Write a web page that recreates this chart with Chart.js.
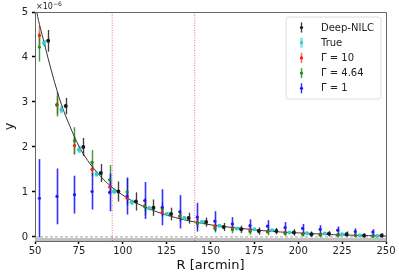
<!DOCTYPE html>
<html><head><meta charset="utf-8">
<script src="https://cdn.jsdelivr.net/npm/chart.js@4"></script>
<style>html,body{margin:0;padding:0;background:#fff}#wrap{width:399px;height:276px;position:relative}</style>
</head><body><div id="wrap"><canvas id="c" width="399" height="276"></canvas></div>
<script>
// ---- data (y in units of 1e-6) ----
const rGamma = [52.5,62.5,72.5,82.5,92.5,102.5,112.5,122.5,132.5,142.5,152.5,162.5,172.5,182.5,192.5,202.5,212.5,222.5,232.5,242.5];
const rTrue  = [55,65,75,85,95,105,115,125,135,145,155,165,175,185,195,205,215,225,235,245];
const rNilc  = [57.5,67.5,77.5,87.5,97.5,107.5,117.5,127.5,137.5,147.5,157.5,167.5,177.5,187.5,197.5,207.5,217.5,227.5,237.5,247.5];

const nilcY   = [4.36,2.91,2.00,1.42,1.01,0.79,0.65,0.51,0.42,0.33,0.22,0.17,0.13,0.13,0.10,0.06,0.07,0.06,0.03,0.03];
const nilcErr = [0.24,0.18,0.20,0.20,0.22,0.20,0.18,0.14,0.12,0.10,0.09,0.08,0.08,0.07,0.07,0.06,0.06,0.06,0.05,0.05];

const trueY   = [4.31,2.83,1.94,1.40,1.01,0.77,0.64,0.51,0.42,0.33,0.25,0.19,0.17,0.15,0.10,0.08,0.075,0.06,0.03,0.02];
const trueErr = [0.07,0.08,0.08,0.06,0.06,0.06,0.05,0.05,0.04,0.04,0.04,0.03,0.03,0.03,0.03,0.03,0.03,0.03,0.03,0.03];

const g10Y    = [4.48,2.93,2.03,1.50,1.11,0.86,0.69,0.55,0.45,0.33,0.24,0.19,0.16,0.13,0.10,0.07,0.06,0.05,0.04,0.03];
const g10Err  = [0.22,0.20,0.20,0.15,0.15,0.14,0.12,0.10,0.09,0.08,0.07,0.06,0.06,0.05,0.05,0.05,0.04,0.04,0.04,0.04];

const g464Y   = [4.22,2.95,2.14,1.66,1.27,1.00,0.67,0.62,0.47,0.30,0.19,0.16,0.12,0.11,0.08,0.06,0.04,0.04,0.03,0.02];
const g464Err = [0.32,0.27,0.30,0.27,0.33,0.30,0.20,0.15,0.13,0.10,0.09,0.08,0.07,0.07,0.06,0.05,0.05,0.05,0.04,0.04];

const g1Y     = [0.86,0.90,0.94,1.01,0.99,0.91,0.81,0.66,0.56,0.44,0.35,0.29,0.25,0.24,0.21,0.19,0.17,0.15,0.12,0.11];
const g1Err   = [0.87,0.62,0.42,0.40,0.42,0.41,0.41,0.40,0.37,0.32,0.22,0.15,0.14,0.13,0.12,0.10,0.09,0.08,0.07,0.06];

const modelR = [50,51,55,60,65,70,75,80,85,90,95,100,105,110,120,130,140,150,160,170,180,190,200,210,220,230,240,250];
const modelY = [5.25,5.0,4.35,3.6,2.95,2.45,2.02,1.70,1.45,1.24,1.07,0.93,0.81,0.71,0.55,0.43,0.34,0.27,0.22,0.18,0.14,0.11,0.09,0.07,0.05,0.04,0.03,0.02];

const vlinesR = [94, 141];
const xTicks = [50,75,100,125,150,175,200,225,250];
const yTicks = [0,1,2,3,4,5];
const labels = ['Deep-NILC','True','Γ = 10','Γ = 4.64','Γ = 1'];

// ---- series styles ----
const series = [
  {name:labels[0], r:rNilc,  v:nilcY, e:nilcErr, mk:'#1a1a1a', bar:'rgba(70,70,70,0.6)', bw:1.6, core:'rgba(30,30,30,0.7)', pr:2},
  {name:labels[1], r:rTrue,  v:trueY, e:trueErr, mk:'#2ad0d0', bar:'rgba(40,210,210,0.6)', bw:3, core:null, pr:2},
  {name:labels[2], r:rGamma, v:g10Y,  e:g10Err,  mk:'#ff1a1a', bar:'rgba(255,80,80,0.4)', bw:2.4, core:'rgba(255,40,40,0.5)', pr:1.6},
  {name:labels[3], r:rGamma, v:g464Y, e:g464Err, mk:'#1a8a1a', bar:'rgba(40,160,40,0.35)', bw:2.2, core:'rgba(20,130,20,0.7)', pr:1.6},
  {name:labels[4], r:rGamma, v:g1Y,   e:g1Err,   mk:'#1a1aff', bar:'rgba(80,80,255,0.35)', bw:3, core:'rgba(0,0,255,0.75)', pr:1.6}
];

const FONT = "'DejaVu Sans', sans-serif";

const decoPlugin = {
  id:'deco',
  beforeDatasetsDraw(chart){
    const {ctx, scales:{x,y}, chartArea:a} = chart;
    ctx.save();
    // grey band below zero
    const yb1 = y.getPixelForValue(-0.025);
    ctx.fillStyle = '#c0c0c0';
    ctx.fillRect(a.left, yb1, a.right-a.left, a.bottom-yb1);
    ctx.beginPath(); ctx.rect(a.left, a.top, a.width, a.height); ctx.clip();
    for (const s of series){
      const passes = [[s.bar, s.bw]];
      if (s.core) passes.push([s.core, 1]);
      for (const [col, lw] of passes){
        ctx.strokeStyle = col; ctx.lineWidth = lw;
        ctx.beginPath();
        for (let i=0;i<s.r.length;i++){
          const px = Math.round(x.getPixelForValue(s.r[i]))+0.5;
          ctx.moveTo(px, y.getPixelForValue(s.v[i]-s.e[i]));
          ctx.lineTo(px, y.getPixelForValue(s.v[i]+s.e[i]));
        }
        ctx.stroke();
      }
    }
    ctx.restore();
  },
  afterDraw(chart){
    const {ctx, chartArea:a} = chart;
    ctx.save();
    // frame (top & right spines)
    ctx.strokeStyle = '#666'; ctx.lineWidth = 1;
    ctx.beginPath();
    ctx.moveTo(a.left, a.top+0.5); ctx.lineTo(a.right+0.5, a.top+0.5); ctx.lineTo(a.right+0.5, a.bottom);
    ctx.stroke();
    // offset text
    ctx.fillStyle = '#222';
    ctx.textBaseline = 'alphabetic';
    ctx.font = "8px " + FONT;
    ctx.fillText('×10', a.left+1, a.top-3);
    const w = ctx.measureText('×10').width;
    ctx.font = "6px " + FONT;
    ctx.fillText('−6', a.left+1+w, a.top-6);
    // legend
    const bx=286, by=17, bw=95, bh=82, rr=3;
    ctx.beginPath();
    ctx.moveTo(bx+rr,by); ctx.lineTo(bx+bw-rr,by); ctx.quadraticCurveTo(bx+bw,by,bx+bw,by+rr);
    ctx.lineTo(bx+bw,by+bh-rr); ctx.quadraticCurveTo(bx+bw,by+bh,bx+bw-rr,by+bh);
    ctx.lineTo(bx+rr,by+bh); ctx.quadraticCurveTo(bx,by+bh,bx,by+bh-rr);
    ctx.lineTo(bx,by+rr); ctx.quadraticCurveTo(bx,by,bx+rr,by); ctx.closePath();
    ctx.fillStyle='rgba(255,255,255,0.85)'; ctx.fill();
    ctx.strokeStyle='#dddddd'; ctx.lineWidth=1; ctx.stroke();
    ctx.font = "10px " + FONT;
    ctx.textBaseline = 'middle';
    series.forEach((s,i)=>{
      const yy = 27.5 + i*15.2;
      ctx.strokeStyle = s.bar; ctx.lineWidth = Math.min(s.bw,2.4);
      ctx.beginPath(); ctx.moveTo(301.5, yy-5); ctx.lineTo(301.5, yy+5); ctx.stroke();
      if (s.core){ ctx.strokeStyle = s.core; ctx.lineWidth = 1; ctx.beginPath(); ctx.moveTo(301.5, yy-5); ctx.lineTo(301.5, yy+5); ctx.stroke(); }
      ctx.fillStyle = s.mk;
      ctx.beginPath(); ctx.arc(301.5, yy, 1.6, 0, Math.PI*2); ctx.fill();
      ctx.fillStyle = '#222';
      ctx.fillText(s.name, 321, yy+0.5);
    });
    ctx.restore();
  }
};

const datasets = [];
datasets.push({type:'line', data:[{x:50,y:0},{x:250,y:0}], borderColor:'#8a8a8a', borderWidth:0.8, borderDash:[3,2], pointRadius:0, order:10});
vlinesR.forEach(v=>datasets.push({type:'line', data:[{x:v,y:-0.09},{x:v,y:5}], borderColor:'rgba(220,30,30,0.6)', borderWidth:1, borderDash:[1,1.5], pointRadius:0, order:9}));
datasets.push({type:'line', data:modelR.map((r,i)=>({x:r,y:modelY[i]})), borderColor:'#333', borderWidth:1, pointRadius:0, cubicInterpolationMode:'monotone', order:8});
series.forEach((s,k)=>datasets.push({type:'scatter', data:s.r.map((r,i)=>({x:r,y:s.v[i]})), backgroundColor:s.mk, borderColor:s.mk, borderWidth:0, pointRadius:s.pr, pointStyle:'circle', order:5-k}));

new Chart(document.getElementById('c'), {
  data:{datasets},
  options:{
    responsive:false, animation:false, devicePixelRatio:1,
    layout:{padding:{left:0,right:13,top:12,bottom:0}},
    plugins:{legend:{display:false}, tooltip:{enabled:false}},
    scales:{
      x:{type:'linear', min:50, max:250,
        afterBuildTicks:s=>{s.ticks = xTicks.map(v=>({value:v}));},
        afterFit:s=>{s.height=35;},
        grid:{drawOnChartArea:false, drawTicks:true, tickLength:3, tickColor:'#000', tickWidth:1.5},
        border:{color:'#666', width:1},
        ticks:{font:{size:10, family:FONT}, color:'#222', padding:1, maxRotation:0, autoSkip:false},
        title:{display:true, text:'R [arcmin]', font:{size:13, family:FONT}, color:'#111', padding:{top:0,bottom:3}}
      },
      y:{type:'linear', min:-0.09, max:5,
        afterBuildTicks:s=>{s.ticks = yTicks.map(v=>({value:v}));},
        afterFit:s=>{s.width=35;},
        grid:{drawOnChartArea:false, drawTicks:true, tickLength:3, tickColor:'#000', tickWidth:1.5},
        border:{color:'#666', width:1},
        ticks:{font:{size:10, family:FONT}, color:'#222', padding:4},
        title:{display:true, text:'y', font:{size:13, family:FONT}, color:'#111', padding:{top:2,bottom:0}}
      }
    }
  },
  plugins:[decoPlugin]
});
</script></body></html>
